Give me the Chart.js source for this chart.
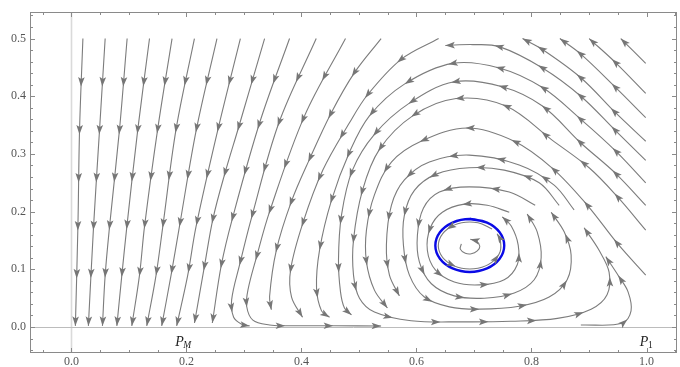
<!DOCTYPE html>
<html>
<head>
<meta charset="utf-8">
<script src="https://cdn.jsdelivr.net/npm/chart.js@4.4.0/dist/chart.umd.min.js"></script>
<style>
  html, body { margin: 0; padding: 0; background: #fff; }
  canvas { display: block; }
</style>
</head>
<body>
<canvas id="streamChart" width="680" height="367"></canvas>
<script>
// tick labels
const xTicks = [0.0, 0.2, 0.4, 0.6, 0.8, 1.0];
const yTicks = [0.0, 0.1, 0.2, 0.3, 0.4, 0.5];

// equilibria named under the axis (subscript, x)
const eqNames = ['M', '1'];
const eqX = [0.195, 1.0];

// streamlines, [x, y] in the direction of flow
const left1 = [[0.020,0.500],[0.0142,0.343],[0.0113,0.174],[0.0069,0.002]];
const left2 = [[0.0587,0.500],[0.0490,0.343],[0.0385,0.174],[0.0295,0.002]];
const left3 = [[0.0969,0.500],[0.0837,0.343],[0.0663,0.174],[0.0587,0.090],[0.0540,0.002]];
const left4 = [[0.1358,0.500],[0.1155,0.343],[0.0964,0.174],[0.0877,0.090],[0.0790,0.002]];
const left5 = [[0.1750,0.500],[0.1500,0.343],[0.1271,0.174],[0.1184,0.090],[0.1050,0.002]];
const left6 = [[0.2139,0.500],[0.1820,0.343],[0.1589,0.174],[0.1472,0.090],[0.1310,0.002]];
const left7 = [[0.2531,0.500],[0.2174,0.343],[0.1878,0.174],[0.1733,0.090],[0.1570,0.002]];
const left8 = [[0.2938,0.500],[0.2549,0.343],[0.2167,0.174],[0.2023,0.090],[0.1830,0.002]];
const left9 = [[0.3359,0.500],[0.2913,0.348],[0.2665,0.265],[0.2462,0.188],[0.2318,0.108],[0.2140,0.007]];
const left10 = [[0.3793,0.500],[0.3273,0.354],[0.2799,0.188],[0.2608,0.108],[0.2450,0.007]];
const left11 = [[0.4257,0.500],[0.3608,0.354],[0.3128,0.188],[0.2925,0.108],[0.2786,0.047],[0.2821,0.017],[0.2960,0.005],[0.3099,0.002]];
const left12 = [[0.4766,0.500],[0.4054,0.366],[0.3446,0.200],[0.3215,0.120],[0.3069,0.064],[0.3047,0.036],[0.3155,0.012],[0.3446,0.0035],[0.3736,0.0023],[0.4575,0.0023],[0.5385,0.0017]];
const left13 = [[0.5385,0.500],[0.4922,0.441],[0.4517,0.371],[0.4141,0.291],[0.3823,0.217],[0.3563,0.133],[0.3446,0.053],[0.3476,0.030]];
const left14 = [[0.6385,0.500],[0.5733,0.464],[0.5153,0.403],[0.4835,0.354],[0.4372,0.272],[0.4024,0.180],[0.3811,0.099],[0.3828,0.052],[0.4019,0.017]];

const right1 = [[0.9986,0.457],[0.9552,0.500]];
const right2 = [[0.9986,0.405],[0.9465,0.458],[0.9002,0.500]];
const right3 = [[0.9986,0.363],[0.9465,0.415],[0.8858,0.473],[0.8493,0.500]];
const right4 = [[0.9986,0.322],[0.9465,0.371],[0.8858,0.432],[0.8191,0.481],[0.7844,0.500]];

const arcB = [[0.9986,0.289],[0.9465,0.340],[0.8858,0.400],[0.8191,0.449],[0.7439,0.486],[0.6980,0.4895],[0.6502,0.488]];
const arcC = [[0.9986,0.250],[0.9465,0.305],[0.8858,0.360],[0.8191,0.415],[0.7439,0.449],[0.6628,0.457],[0.5790,0.421],[0.5182,0.366],[0.4835,0.303],[0.4523,0.220],[0.4314,0.133],[0.4262,0.068],[0.4349,0.028],[0.4488,0.017]];
const arcD = [[0.9986,0.211],[0.9465,0.266],[0.8858,0.319],[0.8191,0.383],[0.7491,0.4165],[0.6658,0.425],[0.5877,0.388],[0.5269,0.334],[0.4887,0.272],[0.4696,0.194],[0.4644,0.116],[0.4679,0.061],[0.4748,0.033],[0.4870,0.021]];
const arcE = [[0.9986,0.168],[0.9493,0.226],[0.9002,0.276],[0.8359,0.324],[0.7556,0.383],[0.6688,0.396],[0.5934,0.366],[0.5356,0.308],[0.5061,0.237],[0.4905,0.151],[0.4905,0.090],[0.5009,0.050],[0.5269,0.026],[0.5906,0.011],[0.6802,0.009],[0.7642,0.010],[0.8451,0.015],[0.9036,0.031],[0.9314,0.056],[0.9349,0.095],[0.9175,0.133],[0.8915,0.172]];
const arcF = [[0.9986,0.090],[0.9493,0.145],[0.8972,0.211],[0.8365,0.275],[0.7700,0.322],[0.6889,0.345],[0.6080,0.322],[0.5564,0.286],[0.5269,0.229],[0.5130,0.168],[0.5130,0.113],[0.5269,0.064],[0.5495,0.033]];
const arcG = [[0.8741,0.203],[0.8394,0.246],[0.7786,0.281],[0.6918,0.298],[0.6224,0.286],[0.5790,0.255],[0.5564,0.211],[0.5477,0.142],[0.5530,0.090],[0.5703,0.054]];

const loopH = [[0.8481,0.211],[0.8134,0.250],[0.7526,0.272],[0.6918,0.276],[0.6345,0.265],[0.5964,0.237],[0.5790,0.194],[0.5773,0.142],[0.5877,0.090],[0.6137,0.052],[0.6571,0.035],[0.7092,0.031],[0.7786,0.036],[0.8307,0.052],[0.8620,0.082],[0.8689,0.125],[0.8568,0.165],[0.8342,0.199]];
const loopI = [[0.8064,0.211],[0.7613,0.234],[0.6918,0.243],[0.6398,0.234],[0.6120,0.206],[0.6016,0.159],[0.6050,0.113],[0.6259,0.075],[0.6658,0.054],[0.7179,0.050],[0.7700,0.059],[0.8047,0.082],[0.8168,0.120],[0.8099,0.165],[0.7925,0.196]];
const loopJ = [[0.7613,0.199],[0.7231,0.211],[0.6832,0.213],[0.6450,0.199],[0.6241,0.172],[0.6189,0.133],[0.6328,0.099],[0.6658,0.078],[0.7092,0.073],[0.7526,0.082],[0.7752,0.108],[0.7769,0.142],[0.7648,0.175],[0.7491,0.191]];
const loopInner = [[0.7314,0.170],[0.7069,0.1806],[0.6786,0.1806],[0.6540,0.170],[0.6399,0.1518],[0.6399,0.1307],[0.6540,0.1125],[0.6786,0.1019],[0.7069,0.1019],[0.7314,0.1125],[0.7455,0.1307],[0.7455,0.1518],[0.7401,0.1616]];
const loopCentre = [[0.6780,0.144],[0.6762,0.135],[0.6849,0.128],[0.6953,0.127],[0.7057,0.132],[0.7101,0.140],[0.7040,0.149],[0.6936,0.152]];
const cornerZ = [[0.8858,0.0035],[0.9575,0.0064],[0.9731,0.028],[0.9679,0.061],[0.9523,0.087],[0.9292,0.122]];

// limit cycle (blue)
const limitCycle = [[0.6927,0.1872],[0.7227,0.1810],[0.7446,0.1642],[0.7526,0.1412],[0.7446,0.1183],[0.7227,0.1015],[0.6927,0.0953],[0.6628,0.1015],[0.6408,0.1183],[0.6328,0.1412],[0.6408,0.1642],[0.6628,0.1810],[0.6927,0.1872],[0.7227,0.1810]];

const streamlines = [
  left1, left2, left3, left4, left5, left6, left7, left8, left9, left10, left11, left12, left13, left14,
  right1, right2, right3, right4,
  arcB, arcC, arcD, arcE, arcF, arcG,
  loopH, loopI, loopJ, loopInner, loopCentre, cornerZ
];

const GRAY = '#7c7c7c';
const tickFont = { family: '"Liberation Serif", serif', size: 12 };

function toPoints(arr) {
  return arr.map(p => ({ x: p[0], y: p[1] }));
}

const datasets = [{
  data: toPoints(limitCycle),
  showLine: true,
  borderColor: '#0a0ae6',
  borderWidth: 2.4,
  pointRadius: 0,
  tension: 0.4,
  order: 0
}];
streamlines.forEach(s => {
  datasets.push({
    data: toPoints(s),
    showLine: true,
    borderColor: GRAY,
    borderWidth: 1.1,
    pointRadius: 0,
    tension: 0.35,
    order: 1,
    arrows: true
  });
});

// sample the drawn bezier curve of a dataset into a dense polyline
function samplePath(pts) {
  const out = [];
  for (let i = 0; i < pts.length - 1; i++) {
    const a = pts[i], b = pts[i + 1];
    const c1x = a.cp2x !== undefined ? a.cp2x : a.x;
    const c1y = a.cp2y !== undefined ? a.cp2y : a.y;
    const c2x = b.cp1x !== undefined ? b.cp1x : b.x;
    const c2y = b.cp1y !== undefined ? b.cp1y : b.y;
    for (let k = 0; k < 16; k++) {
      const t = k / 16, u = 1 - t;
      out.push([
        u*u*u*a.x + 3*u*u*t*c1x + 3*u*t*t*c2x + t*t*t*b.x,
        u*u*u*a.y + 3*u*u*t*c1y + 3*u*t*t*c2y + t*t*t*b.y
      ]);
    }
  }
  const last = pts[pts.length - 1];
  out.push([last.x, last.y]);
  return out;
}

function pointAt(path, cum, s) {
  let i = 1;
  while (i < cum.length - 1 && cum[i] < s) i++;
  const seg = cum[i] - cum[i - 1] || 1;
  const t = Math.min(1, Math.max(0, (s - cum[i - 1]) / seg));
  return [path[i-1][0] + t * (path[i][0] - path[i-1][0]),
          path[i-1][1] + t * (path[i][1] - path[i-1][1])];
}

function drawArrowHead(ctx, tip, back) {
  let dx = tip[0] - back[0], dy = tip[1] - back[1];
  const len = Math.hypot(dx, dy) || 1;
  dx /= len; dy /= len;
  const L = 9.5, W = 3.3;
  const bx = tip[0] - L * dx, by = tip[1] - L * dy;
  const nx = tip[0] - 0.78 * L * dx, ny = tip[1] - 0.78 * L * dy;
  ctx.beginPath();
  ctx.moveTo(tip[0], tip[1]);
  ctx.lineTo(bx - W * dy, by + W * dx);
  ctx.lineTo(nx, ny);
  ctx.lineTo(bx + W * dy, by - W * dx);
  ctx.closePath();
  ctx.fill();
}

const arrowPlugin = {
  id: 'streamArrows',
  afterDatasetsDraw(chart) {
    const ctx = chart.ctx;
    ctx.save();
    ctx.fillStyle = '#767676';
    chart.data.datasets.forEach((ds, di) => {
      if (!ds.arrows) return;
      const pts = chart.getDatasetMeta(di).data;
      const path = samplePath(pts);
      const cum = [0];
      for (let i = 1; i < path.length; i++) {
        cum.push(cum[i-1] + Math.hypot(path[i][0] - path[i-1][0], path[i][1] - path[i-1][1]));
      }
      const total = cum[cum.length - 1];
      const spots = [];
      for (let s = 48; s < total - 14; s += 48) spots.push(s);
      spots.push(total);
      spots.forEach(s => {
        drawArrowHead(ctx, pointAt(path, cum, s), pointAt(path, cum, Math.max(0, s - 5)));
      });
    });
    ctx.restore();
  }
};

const framePlugin = {
  id: 'mmaFrame',
  beforeDatasetsDraw(chart) {
    const { ctx, chartArea: a, scales: { x, y } } = chart;
    ctx.save();
    const x0 = Math.round(x.getPixelForValue(0)) + 0.5;
    ctx.strokeStyle = '#dadada';
    ctx.lineWidth = 1.6;
    ctx.beginPath(); ctx.moveTo(x0, a.top); ctx.lineTo(x0, a.bottom); ctx.stroke();
    const y0 = Math.round(y.getPixelForValue(0)) + 0.5;
    ctx.strokeStyle = '#bcbcbc';
    ctx.lineWidth = 1;
    ctx.beginPath(); ctx.moveTo(a.left, y0); ctx.lineTo(a.right, y0); ctx.stroke();
    ctx.restore();
  },
  afterDraw(chart) {
    const { ctx, chartArea: a, scales: { x, y } } = chart;
    ctx.save();
    ctx.strokeStyle = '#8a8a8a';
    ctx.lineWidth = 1;
    ctx.strokeRect(Math.round(a.left) + 0.5, Math.round(a.top) + 0.5,
                   Math.round(a.right - a.left) - 1, Math.round(a.bottom - a.top) - 1);
    ctx.beginPath();
    for (let i = -1; i <= 21; i++) {
      const px = Math.round(x.getPixelForValue(i * 0.05)) + 0.5;
      if (px <= a.left + 1 || px >= a.right - 1) continue;
      const len = i % 4 === 0 ? 5 : 3;
      ctx.moveTo(px, a.bottom); ctx.lineTo(px, a.bottom - len);
      ctx.moveTo(px, a.top); ctx.lineTo(px, a.top + len);
    }
    for (let i = -2; i <= 27; i++) {
      const py = Math.round(y.getPixelForValue(i * 0.02)) + 0.5;
      if (py <= a.top + 1 || py >= a.bottom - 1) continue;
      const len = i % 5 === 0 ? 5 : 3;
      ctx.moveTo(a.left, py); ctx.lineTo(a.left + len, py);
      ctx.moveTo(a.right, py); ctx.lineTo(a.right - len, py);
    }
    ctx.stroke();

    // equilibrium labels P_M, P_1
    ctx.fillStyle = '#222';
    ctx.textBaseline = 'alphabetic';
    const base = y.getPixelForValue(0) + 19;
    eqNames.forEach((sub, i) => {
      const cx = x.getPixelForValue(eqX[i]);
      const mainFont = 'italic 14px "Liberation Serif", serif';
      const subFont = (isNaN(+sub) ? 'italic ' : '') + '9.5px "Liberation Serif", serif';
      ctx.font = mainFont;
      const wP = ctx.measureText('P').width;
      ctx.font = subFont;
      const wS = ctx.measureText(sub).width;
      const left = cx - (wP + wS) / 2;
      ctx.font = mainFont;
      ctx.fillText('P', left, base);
      ctx.font = subFont;
      ctx.fillText(sub, left + wP - 0.5, base + 2);
    });
    ctx.restore();
  }
};

new Chart(document.getElementById('streamChart').getContext('2d'), {
  type: 'scatter',
  data: { datasets: datasets },
  options: {
    responsive: false,
    animation: false,
    events: [],
    layout: { padding: { top: 12, right: 3, left: 0, bottom: 0 } },
    plugins: { legend: { display: false }, tooltip: { enabled: false } },
    scales: {
      x: {
        type: 'linear',
        min: -0.072,
        max: 1.053,
        grid: { display: false, drawTicks: false },
        border: { display: false },
        afterBuildTicks: s => { s.ticks = xTicks.map(v => ({ value: v })); },
        afterFit: s => { s.height = 14; },
        ticks: { color: '#555', font: tickFont, padding: 2, maxRotation: 0, autoSkip: false,
                 callback: v => v.toFixed(1) }
      },
      y: {
        type: 'linear',
        min: -0.045,
        max: 0.546,
        grid: { display: false, drawTicks: false },
        border: { display: false },
        afterBuildTicks: s => { s.ticks = yTicks.map(v => ({ value: v })); },
        afterFit: s => { s.width = 30; },
        ticks: { color: '#555', font: tickFont, padding: 4, autoSkip: false,
                 callback: v => v.toFixed(1) }
      }
    }
  },
  plugins: [framePlugin, arrowPlugin]
});
</script>
</body>
</html>
